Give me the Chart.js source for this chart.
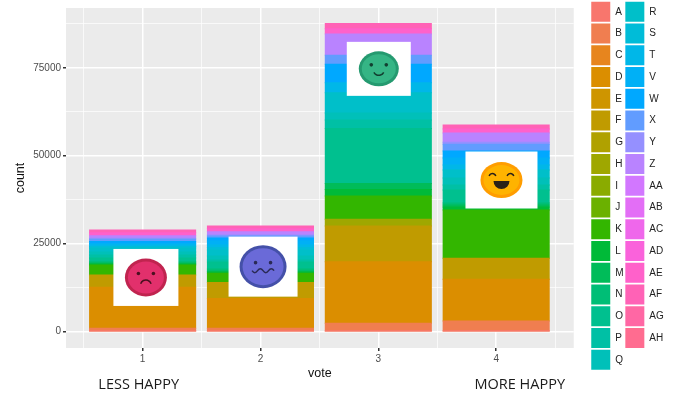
<!DOCTYPE html>
<html>
<head>
<meta charset="utf-8">
<title>vote count</title>
<script src="https://cdn.jsdelivr.net/npm/chart.js@4"></script>
<style>
  html, body { margin: 0; padding: 0; background: #fff; }
  canvas { display: block; }
</style>
</head>
<body>
<canvas id="chart" width="691" height="399"></canvas>
<script>
const votes = [1, 2, 3, 4];
const seriesNames = ["A","B","C","D","E","F","G","H","I","J","K","L","M","N","O","P","Q",
                     "R","S","T","V","W","X","Y","Z","AA","AB","AC","AD","AE","AF","AG","AH"];
const seriesColors = ["#F8766D","#F07E50","#E7851E","#DB8E00","#CE9500","#C09B00","#B0A100","#9FA700","#8AAB00",
                      "#6BB100","#33B600","#00BA38","#00BC59","#00BE76","#00C08F","#00C0A5","#00C0B9",
                      "#00BFC9","#00BCD8","#00B7E8","#00B0F6","#00A8FF","#619CFF","#9590FF","#B983FF",
                      "#D277FF","#E36EF6","#EF67EB","#FA62DB","#FF61CA","#FF62B6","#FF67A4","#FF6C90"];

// one value per series, A first
const vote1 = [200,770,0,11650,0,3500,0,0,0,0,2840,280,280,370,1050,850,850,1130,430,430,430,570,620,280,740,0,0,0,0,810,820,0,0];
const vote2 = [200,770,0,8410,0,4550,0,0,0,0,2670,370,280,570,1990,570,1140,1700,710,710,1140,850,570,280,940,0,0,0,0,810,810,0,0];
const vote3 = [150,2240,0,17500,0,10140,0,1900,0,0,6600,1900,1700,0,15600,2400,2000,5750,0,2850,0,5300,2550,0,6000,0,0,0,0,1500,1500,0,0];
const vote4 = [200,2840,0,11850,0,5970,0,0,0,0,13720,850,570,570,3690,1420,1990,2270,0,1420,1990,1990,1900,570,2640,0,0,0,0,1130,1140,0,0];

const yTicks = [0, 12500, 25000, 37500, 50000, 62500, 75000, 87500];
const xTicks = [0.5, 1, 1.5, 2, 2.5, 3, 3.5, 4, 4.5];

// pictures pasted on the bars: where they sit in data units
const faceKinds = ["sad", "wavy", "smile", "laugh"];
const faceVotes = [1.028, 2.022, 3.004, 4.045];
const faceCounts = [15400, 18470, 74700, 43100];

const moodLabels = ["LESS HAPPY", "MORE HAPPY"];
const moodVotes = [0.967, 4.2];

const faceStyle = {
    sad:   { w: 65, h: 57, rx: 21, ry: 19, fill: "#E2306C", rim: "#C0244F", line: "#4a1020" },
    wavy:  { w: 69, h: 60, rx: 23.5, ry: 21.5, fill: "#6A6AD8", rim: "#4450A8", line: "#2a2a55" },
    smile: { w: 64, h: 54, rx: 20, ry: 17.5, fill: "#35B585", rim: "#259A70", line: "#123f30" },
    laugh: { w: 72, h: 57, rx: 21, ry: 18, fill: "#FFB300", rim: "#FF9D00", line: "#2b2118" }
};

function isMajorX(c) { return !c.tick || Number.isInteger(c.tick.value); }
function isMajorY(c) { return !c.tick || c.tick.value % 25000 === 0; }

function drawMouth(ctx, kind, x, y) {
    ctx.beginPath();
    if (kind === "sad") {
        ctx.arc(x, y + 8, 5.5, Math.PI * 1.1, Math.PI * 1.9);
        ctx.stroke();
    } else if (kind === "smile") {
        ctx.arc(x, y + 1, 5.5, Math.PI * 0.15, Math.PI * 0.85);
        ctx.stroke();
    } else if (kind === "wavy") {
        ctx.moveTo(x - 11, y + 4);
        for (let i = 0; i < 4; i++) {
            ctx.quadraticCurveTo(x - 11 + i * 5.5 + 2.75, y + (i % 2 ? 0 : 8), x - 11 + (i + 1) * 5.5, y + 4);
        }
        ctx.stroke();
    } else {
        ctx.arc(x, y + 1, 8, 0, Math.PI);
        ctx.closePath();
        ctx.fill();
    }
}

function drawFace(ctx, kind, cx, cy) {
    const st = faceStyle[kind];
    ctx.save();
    ctx.fillStyle = "#fff";
    ctx.fillRect(cx - st.w / 2, cy - st.h / 2, st.w, st.h);

    // the source pictures are soft
    ctx.filter = "blur(0.7px)";
    ctx.fillStyle = st.rim;
    ctx.beginPath();
    ctx.ellipse(cx, cy, st.rx, st.ry, 0, 0, Math.PI * 2);
    ctx.fill();
    ctx.fillStyle = st.fill;
    ctx.beginPath();
    ctx.ellipse(cx, cy, st.rx - 3, st.ry - 3, 0, 0, Math.PI * 2);
    ctx.fill();

    ctx.fillStyle = st.line;
    ctx.strokeStyle = st.line;
    ctx.lineWidth = 1.5;
    if (kind === "laugh") {
        [-1, 1].forEach(function (d) {
            ctx.beginPath();
            ctx.arc(cx + d * 9, cy - 3, 3.5, Math.PI * 1.1, Math.PI * 1.9);
            ctx.stroke();
        });
    } else {
        [-1, 1].forEach(function (d) {
            ctx.beginPath();
            ctx.arc(cx + d * 7.5, cy - 4, 1.8, 0, Math.PI * 2);
            ctx.fill();
        });
    }
    drawMouth(ctx, kind, cx, cy);
    ctx.restore();
}

// grey panel behind the grid
const panelPlugin = {
    id: "panel",
    beforeDraw(chart) {
        const a = chart.chartArea;
        chart.ctx.fillStyle = "#EBEBEB";
        chart.ctx.fillRect(a.left, a.top, a.right - a.left, a.bottom - a.top);
    }
};

// legend goes in the top right corner, above the panel's top edge.
// bottom also decides where the first column wraps, after Q
const legendSpot = {
    id: "legendSpot",
    afterLayout(chart) {
        chart.legend.left = 589.5;
        chart.legend.right = chart.width;
        chart.legend.top = 0;
        chart.legend.bottom = 372;
    }
};

const overlayPlugin = {
    id: "overlay",
    afterDraw(chart) {
        const ctx = chart.ctx, x = chart.scales.x, y = chart.scales.y;
        faceKinds.forEach(function (kind, i) {
            drawFace(ctx, kind, x.getPixelForValue(faceVotes[i]), y.getPixelForValue(faceCounts[i]));
        });
        ctx.save();
        ctx.fillStyle = "#1a1a1a";
        ctx.font = "14.5px 'Open Sans'";
        ctx.textAlign = "center";
        ctx.textBaseline = "middle";
        moodLabels.forEach(function (t, i) {
            ctx.fillText(t, x.getPixelForValue(moodVotes[i]), 385);
        });
        ctx.restore();
    }
};

const allVotes = [vote1, vote2, vote3, vote4];
const datasets = seriesNames.map(function (name, s) {
    return {
        label: name,
        // empty segments stay out, otherwise the inflate below paints them as stripes
        data: allVotes.map(function (v) { return v[s] || null; }),
        backgroundColor: seriesColors[s],
        borderWidth: 0,
        inflateAmount: 0.5,
        // the half-step grid ticks set the bar unit, so 1.8 of it is 0.9 of a vote
        categoryPercentage: 1.8,
        barPercentage: 1
    };
});

new Chart(document.getElementById("chart"), {
    type: "bar",
    data: { labels: votes, datasets: datasets },
    plugins: [panelPlugin, legendSpot, overlayPlugin],
    options: {
        responsive: false,
        animation: false,
        layout: { padding: { left: 0, top: 8, bottom: 14, right: 33 } },
        plugins: {
            tooltip: { enabled: false },
            legend: {
                position: "right",
                align: "start",
                onClick: null,
                labels: {
                    boxWidth: 19,
                    boxHeight: 20,
                    padding: 1.75,
                    color: "#222",
                    font: { family: "'Liberation Sans'", size: 10 }
                }
            }
        },
        scales: {
            x: {
                type: "linear",
                stacked: true,
                offset: false,
                min: 0.35,
                max: 4.658,
                afterBuildTicks(scale) {
                    scale.ticks = xTicks.map(function (v) { return { value: v }; });
                },
                afterFit(scale) { scale.height = 37; },
                grid: {
                    offset: false,
                    color: "#fff",
                    lineWidth: function (c) { return isMajorX(c) ? 1.5 : 0.7; },
                    tickColor: function (c) { return isMajorX(c) ? "#333" : "rgba(0,0,0,0)"; },
                    tickLength: 3
                },
                border: { display: false },
                ticks: {
                    color: "#4D4D4D",
                    padding: 2,
                    maxRotation: 0,
                    autoSkip: false,
                    font: { family: "'Liberation Sans'", size: 10 },
                    callback: function (v) { return Number.isInteger(v) ? String(v) : ""; }
                },
                title: {
                    display: true,
                    text: "vote",
                    color: "#111",
                    padding: { top: 0, bottom: 4 },
                    font: { family: "'Liberation Sans'", size: 12.5 }
                }
            },
            y: {
                stacked: true,
                min: -4660,
                max: 92000,
                afterBuildTicks(scale) {
                    scale.ticks = yTicks.map(function (v) { return { value: v }; });
                },
                afterFit(scale) { scale.width = 66; },
                grid: {
                    color: "#fff",
                    lineWidth: function (c) { return isMajorY(c) ? 1.5 : 0.7; },
                    tickColor: function (c) { return isMajorY(c) ? "#333" : "rgba(0,0,0,0)"; },
                    tickLength: 3
                },
                border: { display: false },
                ticks: {
                    color: "#4D4D4D",
                    padding: 2,
                    autoSkip: false,
                    font: { family: "'Liberation Sans'", size: 10 },
                    callback: function (v) { return v % 25000 === 0 ? String(v) : ""; }
                },
                title: {
                    display: true,
                    text: "count",
                    color: "#111",
                    padding: { top: 13, bottom: 0 },
                    font: { family: "'Liberation Sans'", size: 12.5 }
                }
            }
        }
    }
});
</script>
</body>
</html>
